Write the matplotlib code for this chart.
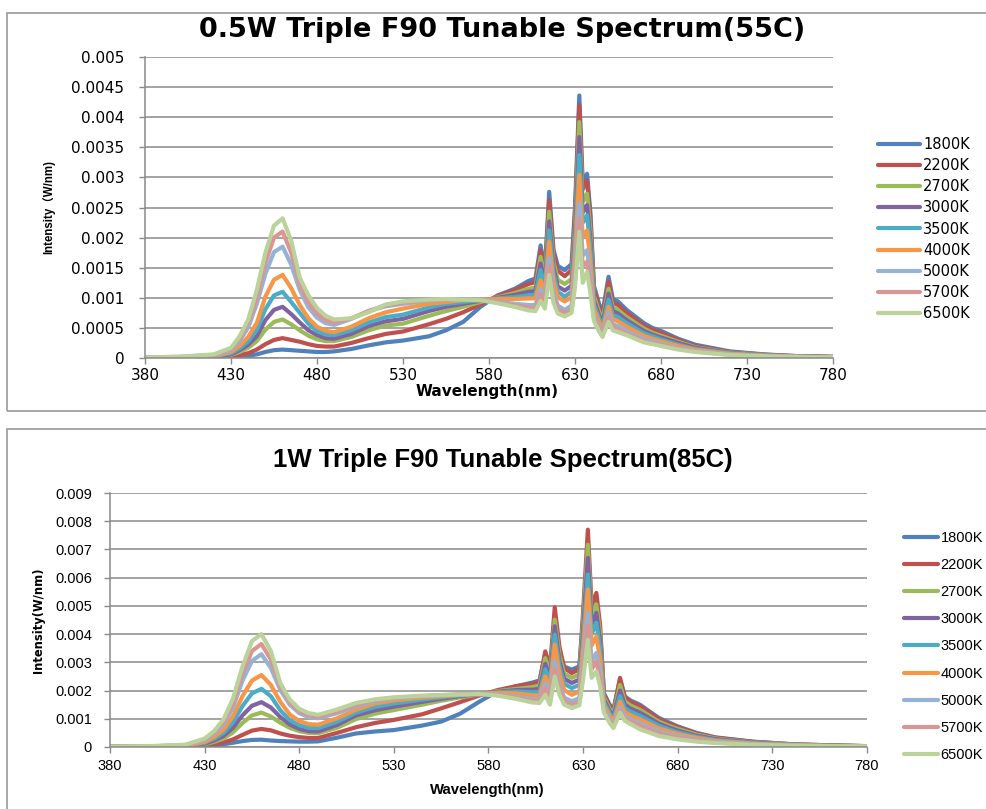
import numpy as np
import matplotlib
matplotlib.use("Agg")
import matplotlib.pyplot as plt
from matplotlib.patches import Rectangle

# ── Data (intensities in units of 1e-4 W/nm) ──────────────────────────
wavelength = [380, 400, 420, 430, 435, 440, 445, 450, 455, 460,
              465, 470, 475, 480, 485, 490, 500, 510, 520, 530,
              545, 555, 565, 575, 585, 595, 603, 607, 610, 612.5,
              615, 617.5, 620, 624, 628, 630, 632.5, 634.5, 637, 639,
              641, 644, 646, 649.5, 652, 655, 660, 670, 675, 680,
              690, 700, 720, 740, 760, 780]

cct_labels = ["1800K", "2200K", "2700K", "3000K", "3500K",
              "4000K", "5000K", "5700K", "6500K"]

# 0.5W @ 55C
top_1800 = [0.1, 0.1, 0.1, 0.2, 0.3, 0.4, 0.6, 1.0, 1.3, 1.4,
            1.3, 1.2, 1.1, 1.0, 1.0, 1.1, 1.5, 2.1, 2.6, 2.9,
            3.6, 4.6, 6.0, 8.5, 10.4, 11.5, 12.8, 13.2, 18.7, 14.5,
            27.6, 18.0, 15.3, 14.6, 15.6, 25.0, 43.6, 29.0, 30.6, 24.0,
            12.0, 9.0, 7.5, 13.5, 9.8, 9.4, 8.0, 5.8, 5.0, 4.5,
            3.2, 2.2, 1.1, 0.6, 0.3, 0.2]
top_2200 = [0.1, 0.1, 0.1, 0.3, 0.5, 0.8, 1.4, 2.3, 3.0, 3.3,
            3.0, 2.7, 2.3, 2.0, 1.9, 1.9, 2.5, 3.3, 4.0, 4.4,
            5.6, 6.5, 7.6, 8.9, 10.3, 11.3, 12.3, 12.6, 17.9, 14.0,
            26.2, 17.2, 14.5, 13.6, 14.6, 24.0, 42.0, 28.0, 29.5, 23.0,
            11.3, 8.4, 7.0, 12.7, 9.2, 8.8, 7.5, 5.4, 4.7, 4.2,
            3.0, 2.0, 1.0, 0.55, 0.3, 0.2]
top_2700 = [0.1, 0.1, 0.2, 0.5, 1.0, 1.7, 2.8, 4.7, 6.0, 6.4,
            5.6, 4.6, 3.7, 3.1, 2.8, 2.8, 3.5, 4.6, 5.4, 5.7,
            7.0, 7.8, 8.5, 9.3, 10.1, 10.8, 11.5, 11.7, 16.8, 13.0,
            24.3, 16.0, 13.0, 12.3, 13.1, 22.0, 39.2, 26.0, 27.3, 21.0,
            10.3, 7.7, 6.3, 11.5, 8.4, 8.0, 6.8, 4.9, 4.2, 3.7,
            2.7, 1.8, 0.9, 0.5, 0.25, 0.15]
top_3000 = [0.1, 0.1, 0.2, 0.6, 1.3, 2.2, 3.6, 6.3, 8.0, 8.5,
            7.3, 5.9, 4.6, 3.8, 3.3, 3.2, 4.0, 5.3, 6.1, 6.5,
            7.8, 8.5, 9.0, 9.5, 10.0, 10.5, 11.0, 11.1, 15.7, 12.3,
            22.7, 15.0, 11.9, 11.2, 12.0, 20.5, 36.7, 24.2, 25.4, 19.5,
            9.6, 7.1, 5.8, 10.7, 7.8, 7.4, 6.3, 4.5, 3.9, 3.4,
            2.5, 1.7, 0.85, 0.45, 0.25, 0.15]
top_3500 = [0.1, 0.1, 0.3, 0.8, 1.6, 2.8, 4.7, 8.1, 10.4, 11.0,
            9.3, 7.5, 5.7, 4.5, 3.9, 3.8, 4.6, 5.9, 6.8, 7.2,
            8.4, 9.0, 9.3, 9.6, 9.9, 10.1, 10.4, 10.5, 14.6, 11.5,
            21.2, 14.0, 11.0, 10.2, 11.0, 19.0, 33.7, 22.5, 23.7, 18.0,
            8.9, 6.6, 5.3, 9.7, 7.1, 6.8, 5.8, 4.1, 3.6, 3.1,
            2.2, 1.5, 0.8, 0.4, 0.2, 0.15]
top_4000 = [0.1, 0.1, 0.3, 1.0, 2.0, 3.5, 5.8, 10.2, 13.0, 13.8,
            11.6, 8.8, 6.6, 5.2, 4.5, 4.3, 5.2, 6.6, 7.6, 8.2,
            9.0, 9.3, 9.6, 9.7, 9.8, 9.8, 9.9, 9.9, 12.9, 10.7,
            19.3, 12.8, 10.1, 9.4, 10.1, 17.0, 30.4, 20.0, 21.2, 16.0,
            8.2, 6.0, 4.8, 8.5, 6.4, 6.1, 5.2, 3.7, 3.2, 2.8,
            2.0, 1.4, 0.7, 0.4, 0.2, 0.1]
top_5000 = [0.1, 0.1, 0.4, 1.3, 2.8, 5.1, 9.0, 14.0, 17.6, 18.5,
            15.5, 11.3, 8.4, 6.7, 5.8, 5.5, 6.5, 7.8, 8.6, 9.0,
            9.5, 9.7, 9.7, 9.7, 9.4, 9.0, 8.8, 8.8, 11.5, 9.5,
            16.6, 11.0, 8.7, 8.0, 8.7, 14.5, 25.7, 17.0, 17.9, 13.5,
            7.2, 5.2, 4.2, 7.5, 5.6, 5.3, 4.5, 3.2, 2.8, 2.4,
            1.7, 1.2, 0.6, 0.35, 0.2, 0.1]
top_5700 = [0.1, 0.2, 0.5, 1.5, 3.2, 5.8, 10.0, 15.8, 20.0, 21.0,
            17.5, 12.2, 9.2, 7.4, 6.3, 5.9, 6.6, 7.8, 8.8, 9.2,
            9.6, 9.7, 9.7, 9.6, 9.3, 8.7, 8.4, 8.3, 10.7, 8.9,
            15.2, 10.1, 8.1, 7.5, 8.1, 13.0, 23.2, 15.3, 16.0, 12.0,
            6.7, 4.8, 3.8, 6.8, 5.1, 4.8, 4.1, 2.9, 2.5, 2.2,
            1.6, 1.1, 0.55, 0.3, 0.2, 0.1]
top_6500 = [0.1, 0.2, 0.6, 1.7, 3.6, 6.4, 11.3, 17.5, 22.0, 23.2,
            19.5, 13.3, 10.4, 8.3, 7.0, 6.4, 6.6, 7.6, 8.9, 9.4,
            9.7, 9.8, 9.7, 9.6, 9.1, 8.5, 7.9, 7.8, 9.5, 8.2,
            13.8, 9.2, 7.4, 6.9, 7.5, 11.8, 21.0, 12.5, 14.3, 10.7,
            6.2, 4.4, 3.5, 6.0, 4.6, 4.3, 3.8, 2.6, 2.3, 2.0,
            1.4, 1.0, 0.5, 0.3, 0.15, 0.1]

# 1W @ 85C
bot_1800 = [0.1, 0.1, 0.2, 0.4, 0.6, 1.0, 1.5, 2.1, 2.5, 2.6,
            2.3, 2.1, 2.0, 1.9, 1.9, 2.0, 3.3, 4.8, 5.5, 6.0,
            7.6, 9.0, 11.8, 16.0, 19.8, 21.6, 22.8, 23.6, 33.0, 27.5,
            44.0, 33.0, 28.5, 27.4, 28.6, 45.0, 68.0, 46.0, 50.0, 40.0,
            19.1, 15.0, 13.2, 24.0, 18.0, 16.5, 15.0, 10.3, 8.8, 7.3,
            5.0, 3.4, 1.9, 1.0, 0.6, 0.3]
bot_2200 = [0.1, 0.1, 0.2, 0.6, 1.0, 1.6, 2.7, 4.3, 5.8, 6.4,
            5.9, 4.8, 4.0, 3.5, 3.2, 3.2, 5.0, 7.0, 8.5, 9.6,
            11.6, 13.7, 15.9, 18.2, 20.2, 21.6, 22.4, 23.0, 33.9, 28.0,
            49.5, 35.5, 28.0, 26.2, 27.5, 48.0, 77.0, 50.0, 54.6, 43.0,
            18.6, 14.5, 12.6, 24.5, 17.6, 16.0, 14.5, 9.9, 8.4, 7.0,
            4.8, 3.3, 1.8, 1.0, 0.6, 0.3]
bot_2700 = [0.1, 0.1, 0.3, 1.0, 1.8, 3.0, 5.2, 8.5, 11.2, 12.2,
            10.8, 8.6, 6.8, 5.6, 5.0, 4.9, 6.8, 9.9, 11.8, 13.1,
            15.0, 16.4, 17.6, 18.6, 19.8, 20.6, 21.2, 21.8, 31.5, 26.0,
            45.1, 32.5, 26.0, 24.5, 25.7, 44.5, 71.7, 46.5, 50.5, 40.0,
            17.6, 13.6, 11.7, 22.0, 16.2, 14.7, 13.2, 9.0, 7.6, 6.4,
            4.4, 3.0, 1.6, 0.9, 0.5, 0.3]
bot_3000 = [0.1, 0.1, 0.3, 1.2, 2.3, 3.9, 6.8, 11.2, 14.6, 15.9,
            14.0, 10.6, 8.0, 6.4, 5.6, 5.5, 7.8, 11.2, 13.0, 14.3,
            16.0, 17.1, 18.0, 18.8, 19.6, 20.2, 20.3, 20.6, 29.5, 24.5,
            42.8, 30.5, 24.2, 22.7, 23.9, 41.5, 67.0, 43.5, 47.5, 37.5,
            16.8, 12.8, 10.8, 20.0, 15.0, 13.6, 12.2, 8.3, 7.0, 5.8,
            4.0, 2.8, 1.5, 0.8, 0.5, 0.3]
bot_3500 = [0.1, 0.1, 0.4, 1.5, 2.9, 5.0, 8.8, 14.5, 19.0, 20.6,
            18.0, 13.0, 9.5, 7.7, 6.8, 6.7, 9.0, 12.2, 14.2, 15.4,
            16.8, 17.6, 18.3, 18.8, 19.4, 19.7, 19.4, 19.5, 27.5, 23.0,
            39.8, 28.5, 22.4, 20.9, 22.0, 38.0, 61.1, 40.0, 44.0, 34.5,
            16.0, 12.0, 10.0, 18.0, 13.8, 12.5, 11.0, 7.5, 6.3, 5.2,
            3.6, 2.5, 1.4, 0.8, 0.4, 0.2]
bot_4000 = [0.1, 0.1, 0.4, 1.8, 3.5, 6.2, 10.9, 18.0, 23.5, 25.5,
            22.0, 16.0, 11.5, 9.2, 8.1, 7.9, 10.2, 13.2, 15.4, 16.5,
            17.5, 18.0, 18.5, 18.9, 19.2, 19.0, 18.3, 18.3, 25.0, 21.0,
            36.3, 26.0, 20.2, 18.5, 19.7, 34.5, 55.8, 36.0, 39.2, 31.0,
            15.0, 11.0, 9.0, 16.0, 12.4, 11.2, 9.8, 6.6, 5.6, 4.6,
            3.2, 2.2, 1.2, 0.7, 0.4, 0.2]
bot_5000 = [0.1, 0.2, 0.6, 2.4, 4.6, 8.0, 14.0, 23.5, 30.5, 32.9,
            28.0, 20.2, 15.0, 12.0, 10.6, 10.2, 12.0, 14.4, 16.2, 17.2,
            17.9, 18.3, 18.6, 18.9, 18.6, 17.8, 17.0, 17.0, 22.5, 19.0,
            30.4, 22.0, 17.5, 16.2, 17.3, 29.5, 47.5, 30.5, 33.3, 26.5,
            13.8, 10.0, 8.0, 14.0, 11.0, 9.8, 8.4, 5.6, 4.6, 3.8,
            2.6, 1.8, 1.0, 0.6, 0.3, 0.2]
bot_5700 = [0.1, 0.2, 0.7, 2.7, 5.1, 9.0, 15.6, 26.0, 34.0, 36.5,
            31.0, 21.4, 15.8, 12.7, 11.3, 10.8, 12.6, 15.0, 16.6, 17.4,
            18.0, 18.4, 18.6, 18.8, 18.4, 17.4, 16.4, 16.4, 21.0, 17.8,
            28.0, 20.5, 16.3, 15.0, 16.0, 27.0, 42.8, 27.5, 30.4, 24.0,
            13.0, 9.3, 7.4, 13.0, 10.2, 9.0, 7.6, 4.9, 4.0, 3.3,
            2.3, 1.6, 0.9, 0.5, 0.3, 0.2]
bot_6500 = [0.1, 0.3, 0.8, 3.0, 5.6, 9.8, 17.2, 28.5, 37.5, 40.0,
            34.0, 22.6, 16.8, 13.5, 12.0, 11.4, 13.3, 15.6, 16.9, 17.6,
            18.2, 18.4, 18.6, 18.8, 18.2, 17.0, 15.8, 15.6, 18.5, 15.0,
            25.0, 18.5, 15.0, 13.8, 14.8, 24.0, 38.0, 24.5, 26.8, 21.5,
            12.2, 8.6, 6.7, 12.2, 9.3, 8.2, 6.3, 3.9, 3.3, 2.7,
            1.9, 1.4, 0.8, 0.5, 0.3, 0.2]

top_series = [top_1800, top_2200, top_2700, top_3000, top_3500,
              top_4000, top_5000, top_5700, top_6500]
bot_series = [bot_1800, bot_2200, bot_2700, bot_3000, bot_3500,
              bot_4000, bot_5000, bot_5700, bot_6500]

colors = ["#4F81BD", "#C0504D", "#9BBB59", "#8064A2", "#4BACC6",
          "#F79646", "#95B3D7", "#D99694", "#B9D39A"]

x_ticks = [380, 430, 480, 530, 580, 630, 680, 730, 780]
top_yticks = [0, 0.0005, 0.001, 0.0015, 0.002, 0.0025, 0.003, 0.0035, 0.004, 0.0045, 0.005]
top_ylabels = ["0", "0.0005", "0.001", "0.0015", "0.002", "0.0025", "0.003",
               "0.0035", "0.004", "0.0045", "0.005"]
bot_yticks = [0, 0.001, 0.002, 0.003, 0.004, 0.005, 0.006, 0.007, 0.008, 0.009]
bot_ylabels = ["0", "0.001", "0.002", "0.003", "0.004", "0.005", "0.006",
               "0.007", "0.008", "0.009"]

W, H = 987, 809
GRID = "#8A8A8A"

fig = plt.figure(figsize=(W / 100, H / 100), dpi=100)


def fx(px):
    return px / W


def fy(py):
    return 1 - py / H


# ── Panel frames ───────────────────────────────────────────────────────
fig.patches.append(Rectangle((fx(7), fy(411)), fx(990 - 7), fy(13) - fy(411),
                             transform=fig.transFigure, fill=False,
                             edgecolor="#9A9A9A", linewidth=1.2))
fig.patches.append(Rectangle((fx(7), fy(815)), fx(990 - 7), fy(429) - fy(815),
                             transform=fig.transFigure, fill=False,
                             edgecolor="#9A9A9A", linewidth=1.2))


def draw_panel(rect, series, yticks, ylabels, ymax, tick_font, tick_size,
               xpad, ypad):
    ax = fig.add_axes(rect)
    wl = np.array(wavelength)
    for vals, col, lab in zip(series, colors, cct_labels):
        ax.plot(wl, np.array(vals) * 1e-4, color=col, linewidth=3.0,
                label=lab, solid_joinstyle="round", solid_capstyle="round")
    ax.set_xlim(380, 780)
    ax.set_ylim(0, ymax)
    ax.set_xticks(x_ticks)
    ax.set_xticklabels([str(t) for t in x_ticks], fontsize=tick_size,
                       family=tick_font)
    ax.set_yticks(yticks)
    ax.set_yticklabels(ylabels, fontsize=tick_size, family=tick_font)
    ax.yaxis.grid(True, color=GRID, linewidth=1.1)
    ax.set_axisbelow(True)
    for side in ["top", "right"]:
        ax.spines[side].set_visible(False)
    for side in ["left", "bottom"]:
        ax.spines[side].set_color(GRID)
        ax.spines[side].set_linewidth(1.1)
    ax.tick_params(axis="x", length=4, color=GRID, width=1, pad=xpad)
    ax.tick_params(axis="y", length=4, color=GRID, width=1, pad=ypad)
    return ax


# ── Top panel: 0.5W @ 55C ──────────────────────────────────────────────
ax1 = draw_panel([fx(145), fy(358), fx(833 - 145), fy(57) - fy(358)],
                 top_series, top_yticks, top_ylabels, 0.005,
                 "DejaVu Sans", 11, 3, 11)
fig.text(fx(502), fy(30), "0.5W Triple F90 Tunable Spectrum(55C)",
         ha="center", va="center", fontsize=19.5, fontweight="bold",
         family="DejaVu Sans")
fig.text(fx(49), fy(207), "Intensity（W/nm)", rotation=90,
         ha="center", va="center", fontsize=8.3, fontweight="bold",
         family=["Liberation Sans", "Noto Sans CJK SC"])
fig.text(fx(487), fy(392), "Wavelength(nm)", ha="center", va="center",
         fontsize=11, fontweight="bold", family="DejaVu Sans")
ax1.legend(loc="upper left", bbox_to_anchor=(fx(878), fy(137)),
           bbox_transform=fig.transFigure, frameon=False,
           prop={"family": "DejaVu Sans", "size": 10.5},
           handlelength=2.85, handletextpad=0.25, labelspacing=0.42,
           borderpad=0, borderaxespad=0)

# ── Bottom panel: 1W @ 85C ─────────────────────────────────────────────
ax2 = draw_panel([fx(110), fy(747), fx(867 - 110), fy(493) - fy(747)],
                 bot_series, bot_yticks, bot_ylabels, 0.009,
                 "Liberation Sans", 10.5, 5, 9)
fig.text(fx(503), fy(460), "1W Triple F90 Tunable Spectrum(85C)",
         ha="center", va="center", fontsize=18.5, fontweight="bold",
         family="Liberation Sans")
fig.text(fx(39), fy(620), "Intensity(W/nm)", rotation=90,
         ha="center", va="center", fontsize=8.3, fontweight="bold",
         family="DejaVu Sans")
fig.text(fx(487), fy(790), "Wavelength(nm)", ha="center", va="center",
         fontsize=10.7, fontweight="bold", family="Liberation Sans")
ax2.legend(loc="upper left", bbox_to_anchor=(fx(904), fy(531)),
           bbox_transform=fig.transFigure, frameon=False,
           prop={"family": "Liberation Sans", "size": 10.5},
           handlelength=2.3, handletextpad=0.2, labelspacing=0.9,
           borderpad=0, borderaxespad=0)

fig.savefig("out.png", dpi=100)
